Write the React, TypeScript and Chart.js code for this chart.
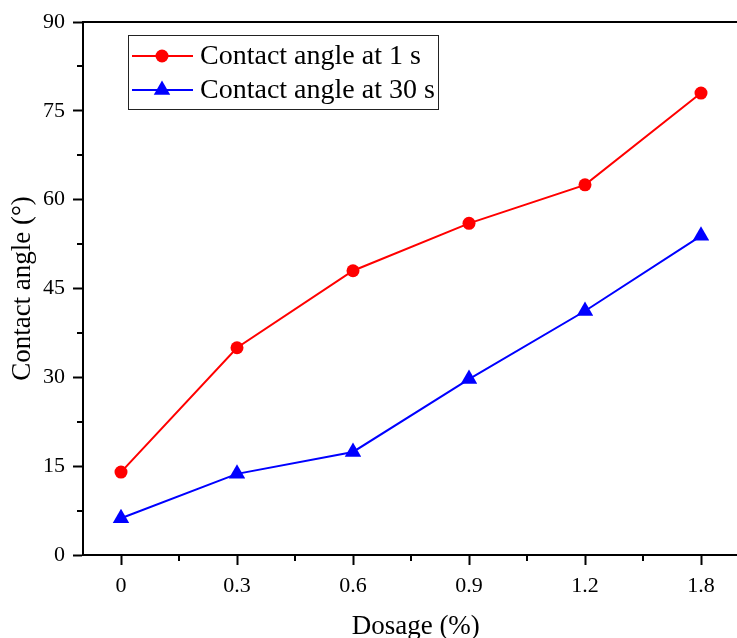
import React, { useEffect, useRef } from "react";
import { Chart, registerables } from "chart.js";

Chart.register(...registerables);

const categories = ["0", "0.3", "0.6", "0.9", "1.2", "1.8"];
const angle1s = [14.0, 35.0, 48.0, 56.0, 62.5, 78.0];
const angle30s = [6.2, 13.7, 17.4, 29.7, 41.2, 53.9];
const yTicks = [0, 15, 30, 45, 60, 75, 90];
const seriesNames = ["Contact angle at 1 s", "Contact angle at 30 s"];

const FONT = "'Liberation Serif', 'Times New Roman', serif";
const CW = 758;

const decor = {
  id: "decor",
  afterDraw(chart: any) {
    const { ctx, chartArea, scales } = chart;
    const { left, right, top, bottom } = chartArea;
    const x = scales.x;
    const y = scales.y;
    ctx.save();
    ctx.strokeStyle = "#000";
    ctx.lineWidth = 2;
    ctx.beginPath();
    ctx.moveTo(left - 1, top);
    ctx.lineTo(Math.max(right, 737), top);
    // minor ticks
    for (let i = 0; i < yTicks.length - 1; i++) {
      const v = (yTicks[i] + yTicks[i + 1]) / 2;
      const py = Math.round(y.getPixelForValue(v));
      ctx.moveTo(left, py);
      ctx.lineTo(left - 6, py);
    }
    for (let i = 0; i < categories.length - 1; i++) {
      const px = Math.round(x.getPixelForValue(i + 0.5));
      ctx.moveTo(px, bottom);
      ctx.lineTo(px, bottom + 6);
    }
    ctx.stroke();

    // legend
    const bx = 128, by = 35, bw = 310, bh = 74;
    ctx.lineWidth = 1;
    ctx.strokeStyle = "#222";
    ctx.strokeRect(bx + 0.5, by + 0.5, bw, bh);
    const rows = [by + 21, by + 55];
    chart.data.datasets.forEach((ds: any, i: number) => {
      const ry = rows[i];
      ctx.strokeStyle = ds.borderColor;
      ctx.lineWidth = 2;
      ctx.beginPath();
      ctx.moveTo(bx + 4, ry);
      ctx.lineTo(bx + 65, ry);
      ctx.stroke();
      ctx.fillStyle = ds.borderColor;
      ctx.beginPath();
      const cx = bx + 34;
      if (ds.pointStyle === "triangle") {
        const r = 9.5;
        ctx.moveTo(cx, ry - r);
        ctx.lineTo(cx + Math.sin((2 * Math.PI) / 3) * r, ry + r / 2);
        ctx.lineTo(cx - Math.sin((2 * Math.PI) / 3) * r, ry + r / 2);
        ctx.closePath();
      } else {
        ctx.arc(cx, ry, 6.5, 0, Math.PI * 2);
      }
      ctx.fill();
      ctx.fillStyle = "#000";
      ctx.font = `28px ${FONT}`;
      ctx.textBaseline = "middle";
      ctx.textAlign = "left";
      ctx.fillText(ds.label, bx + 72, ry + 1);
    });
    ctx.restore();
  },
};

export default function App() {
  const ref = useRef<HTMLCanvasElement>(null);
  useEffect(() => {
    const canvas = ref.current!;
    const spacing = 116;
    const chart = new Chart(canvas, {
      type: "line",
      data: {
        datasets: [
          {
            label: seriesNames[0],
            data: angle1s.map((v, i) => ({ x: i, y: v })),
            borderColor: "#FF0000",
            backgroundColor: "#FF0000",
            borderWidth: 2,
            pointStyle: "circle",
            pointRadius: 6.5,
            pointBorderWidth: 0,
            tension: 0,
          },
          {
            label: seriesNames[1],
            data: angle30s.map((v, i) => ({ x: i, y: v })),
            borderColor: "#0000FF",
            backgroundColor: "#0000FF",
            borderWidth: 2,
            pointStyle: "triangle",
            pointRadius: 9.5,
            pointBorderWidth: 0,
            tension: 0,
          },
        ],
      },
      options: {
        animation: false,
        responsive: false,
        devicePixelRatio: 1,
        layout: { padding: { top: 22, left: 0, right: 0, bottom: 0 } },
        plugins: { legend: { display: false }, tooltip: { enabled: false } },
        scales: {
          x: {
            type: "linear",
            min: -38 / spacing,
            max: 5.3,
            afterDataLimits: (s: any) => {
              s.min = -38 / spacing;
              s.max = s.min + (s.width > 100 ? s.width : CW - 83) / spacing;
            },
            afterBuildTicks: (s: any) => {
              s.ticks = categories.map((_, i) => ({ value: i }));
            },
            afterFit: (s: any) => {
              s.height = 83;
              s.paddingLeft = 0;
              s.paddingRight = 0;
            },
            ticks: {
              callback: (v: any) => categories[Math.round(v)] ?? "",
              font: { family: FONT, size: 22 },
              color: "#000",
              padding: 8,
              maxRotation: 0,
              autoSkip: false,
            },
            grid: {
              drawOnChartArea: false,
              drawTicks: true,
              tickLength: 10,
              tickWidth: 2,
              tickColor: "#000",
            },
            border: { display: true, color: "#000", width: 2 },
            title: {
              display: true,
              text: "Dosage (%)",
              font: { family: FONT, size: 27, lineHeight: 1 },
              color: "#000",
              padding: { top: 0, bottom: -2 },
            },
          },
          y: {
            type: "linear",
            min: 0,
            max: 90,
            afterBuildTicks: (s: any) => {
              s.ticks = yTicks.map((v) => ({ value: v }));
            },
            afterFit: (s: any) => {
              s.width = 83;
              s.paddingTop = 0;
              s.paddingBottom = 0;
            },
            ticks: {
              font: { family: FONT, size: 22 },
              color: "#000",
              padding: 8,
            },
            grid: {
              drawOnChartArea: false,
              drawTicks: true,
              tickLength: 10,
              tickWidth: 2,
              tickColor: "#000",
            },
            border: { display: true, color: "#000", width: 2 },
            title: {
              display: true,
              text: "Contact angle (°)",
              font: { family: FONT, size: 27, lineHeight: 1 },
              color: "#000",
              padding: { top: 9, bottom: 0 },
            },
          },
        },
      },
      plugins: [decor],
    });
    return () => chart.destroy();
  }, []);
  return (
    <div
      style={{
        position: "fixed",
        left: 0,
        top: 0,
        width: 737,
        height: 638,
        overflow: "hidden",
        background: "#fff",
      }}
    >
      <canvas ref={ref} width={CW} height={638} style={{ display: "block" }} />
    </div>
  );
}
